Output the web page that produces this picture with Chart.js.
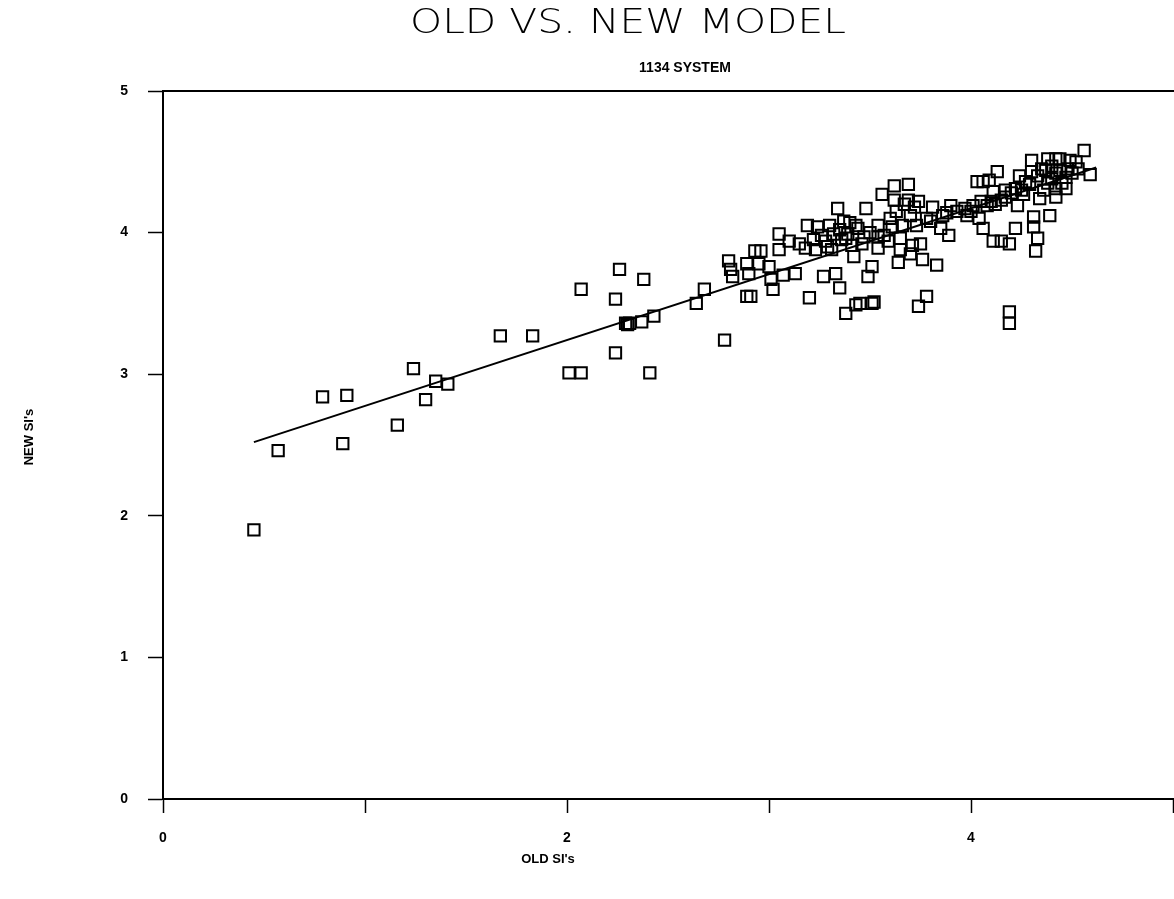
<!DOCTYPE html>
<html>
<head>
<meta charset="utf-8">
<script src="https://cdn.jsdelivr.net/npm/chart.js@4.4.1/dist/chart.umd.min.js"></script>
<style>
html,body{margin:0;padding:0;background:#fff;}
#wrap{width:1174px;height:899px;}
</style>
</head>
<body>
<div id="wrap"><canvas id="c" width="1174" height="899"></canvas></div>
<script>
// ---- data ----
const titleText = "OLD VS. NEW MODEL";
const subtitleText = "1134 SYSTEM";
const xAxisTitle = "OLD SI's";
const yAxisTitle = "NEW SI's";
const xTickLabels = ["0", "", "2", "", "4", ""];
const yTickLabels = ["0", "1", "2", "3", "4", "5"];

const oldSI = [
  0.45,0.57,0.79,0.91,0.89,1.16,1.24,1.30,1.35,1.41,1.67,1.83,2.01,2.07,2.07,2.24,2.24,2.26,2.29,2.30,
  2.31,2.37,2.38,2.41,2.43,2.64,2.68,2.78,2.80,2.81,2.82,2.89,2.91,2.89,2.90,2.93,2.96,2.95,3.00,3.01,
  3.02,3.05,3.05,3.07,3.10,3.13,3.18,3.19,3.20,3.23,3.24,3.27,3.28,3.30,3.31,3.33,3.34,3.35,3.36,3.37,
  3.38,3.39,3.40,3.41,3.42,3.43,3.44,3.45,3.47,3.48,3.49,3.51,3.51,3.52,3.54,3.54,3.54,3.56,3.59,3.61,
  3.62,3.62,3.64,3.65,3.65,3.66,3.69,3.69,3.70,3.71,3.72,3.73,3.74,3.75,3.76,3.78,3.81,3.83,3.85,3.88,
  3.89,3.90,3.97,3.98,4.01,4.03,4.04,4.06,4.06,4.08,4.09,4.10,4.11,4.11,4.13,4.15,4.15,4.17,4.19,4.19,
  4.19,4.22,4.22,4.23,4.29,4.30,4.30,4.31,4.31,4.32,4.33,4.34,4.37,4.38,4.38,4.39,4.42,4.42,4.42,4.42,
  4.44,4.47,4.47,4.49,4.52,4.56,4.59,
  3.15,3.22,3.26,3.29,3.32,3.35,3.38,3.43,3.46,3.50,3.57,3.60,3.63,3.67,3.70,3.74,3.78,3.80,3.86,3.93,
  4.00,4.05,4.12,4.17,4.20,4.25,4.27,4.33,4.35,4.36,4.40,4.40,4.44,4.45,4.48,4.50,4.53,4.24,4.26
];
const newSI = [
  1.90,2.46,2.84,2.85,2.51,2.64,3.04,2.82,2.95,2.93,3.27,3.27,3.01,3.01,3.60,3.53,3.15,3.74,3.36,3.35,
  3.36,3.37,3.67,3.01,3.41,3.50,3.60,3.24,3.80,3.74,3.69,3.55,3.55,3.78,3.71,3.87,3.87,3.78,3.76,3.67,
  3.60,3.99,3.88,3.70,3.94,3.71,3.89,4.05,3.54,3.88,4.04,3.69,3.94,4.05,3.88,3.71,4.17,3.61,3.95,4.08,
  3.43,3.99,4.07,3.91,3.83,3.49,4.03,3.50,3.97,4.17,3.69,3.76,3.50,3.51,3.89,3.97,4.05,4.27,3.94,4.04,
  4.23,4.33,3.79,3.88,3.96,4.05,4.34,4.23,3.85,3.91,4.18,4.05,3.48,3.92,3.81,3.55,4.18,3.77,4.03,4.14,
  3.98,4.19,4.17,4.12,4.19,4.36,4.10,4.36,4.03,4.19,4.37,4.22,4.29,3.94,4.43,4.23,3.94,4.30,3.92,3.44,
  3.36,4.31,4.03,4.19,4.34,4.51,4.43,4.11,4.04,3.87,3.96,4.24,4.44,4.35,4.52,4.12,4.52,4.42,4.31,4.25,
  4.52,4.39,4.31,4.51,4.50,4.58,4.41,
  3.92,3.95,3.98,3.90,3.99,4.02,3.96,4.05,3.92,4.00,3.98,4.10,4.15,4.20,4.12,4.22,4.10,4.08,4.12,4.15,
  4.15,4.22,4.20,4.25,4.28,4.30,4.36,4.40,4.45,4.30,4.38,4.47,4.44,4.35,4.45,4.42,4.45,4.40,4.27
];
// fitted line end points (old SI, new SI)
const fitOld = [0.45, 4.62];
const fitNew = [2.52, 4.46];

// ---- build chart ----
const scatterPts = oldSI.map((x, i) => ({x: x, y: newSI[i]}));
const fitPts = fitOld.map((x, i) => ({x: x, y: fitNew[i]}));

const textPlugin = {
  id: 'textPlugin',
  afterDraw(chart) {
    const ctx = chart.ctx;
    const ca = chart.chartArea;
    ctx.save();
    ctx.fillStyle = '#000';
    ctx.strokeStyle = '#000';
    // top frame line
    ctx.lineWidth = 2;
    ctx.beginPath();
    ctx.moveTo(ca.left, ca.top);
    ctx.lineTo(chart.width, ca.top);
    ctx.stroke();
    // title (thin, wide): cap height ~25px, width ~436px
    ctx.textAlign = 'center';
    ctx.textBaseline = 'alphabetic';
    ctx.font = '300 34px "DejaVu Sans"';
    const w = ctx.measureText(titleText).width;
    ctx.save();
    ctx.translate(628, 33);
    ctx.scale(436 / w, 1);
    ctx.fillText(titleText, 0, 0);
    ctx.restore();
    // subtitle
    ctx.font = 'bold 14px "Liberation Sans"';
    ctx.fillText(subtitleText, 685, 72);
    // axis titles
    ctx.font = 'bold 13px "Liberation Sans"';
    ctx.fillText(xAxisTitle, 548, 863);
    ctx.translate(33, 437);
    ctx.rotate(-Math.PI / 2);
    ctx.fillText(yAxisTitle, 0, 0);
    ctx.restore();
  }
};

new Chart(document.getElementById('c'), {
  type: 'scatter',
  data: {
    datasets: [
      {
        label: 'SI',
        data: scatterPts,
        pointStyle: 'rect',
        pointRadius: 8,
        pointBorderWidth: 2,
        pointBackgroundColor: 'rgba(0,0,0,0)',
        pointBorderColor: '#000',
        showLine: false
      },
      {
        label: 'fit',
        type: 'line',
        data: fitPts,
        borderColor: '#000',
        borderWidth: 2,
        pointRadius: 0,
        fill: false
      }
    ]
  },
  options: {
    responsive: false,
    animation: false,
    devicePixelRatio: 1,
    layout: {autoPadding: false, padding: {top: 91, right: 1, left: 0, bottom: 0}},
    plugins: {
      legend: {display: false},
      title: {display: false},
      tooltip: {enabled: false}
    },
    scales: {
      x: {
        type: 'linear',
        min: 0, max: 5,
        afterFit(s) { s.height = 100; s.paddingLeft = 0; s.paddingRight = 0; },
        border: {display: true, color: '#000', width: 2},
        grid: {display: true, drawOnChartArea: false, drawTicks: true, tickLength: 14, tickColor: '#000', tickWidth: 1.5},
        ticks: {
          stepSize: 1,
          padding: 17,
          color: '#000',
          font: {family: '"Liberation Sans"', size: 14, weight: 'bold'},
          maxRotation: 0,
          autoSkip: false,
          callback: (v, i) => xTickLabels[i]
        }
      },
      y: {
        type: 'linear',
        min: 0, max: 5,
        afterFit(s) { s.width = 163; s.paddingTop = 0; s.paddingBottom = 0; },
        border: {display: true, color: '#000', width: 2},
        grid: {display: true, drawOnChartArea: false, drawTicks: true, tickLength: 15, tickColor: '#000', tickWidth: 1.5},
        ticks: {
          stepSize: 1,
          padding: 20,
          color: '#000',
          font: {family: '"Liberation Sans"', size: 14, weight: 'bold'},
          callback: (v, i) => yTickLabels[i]
        }
      }
    }
  },
  plugins: [textPlugin]
});
</script>
</body>
</html>
